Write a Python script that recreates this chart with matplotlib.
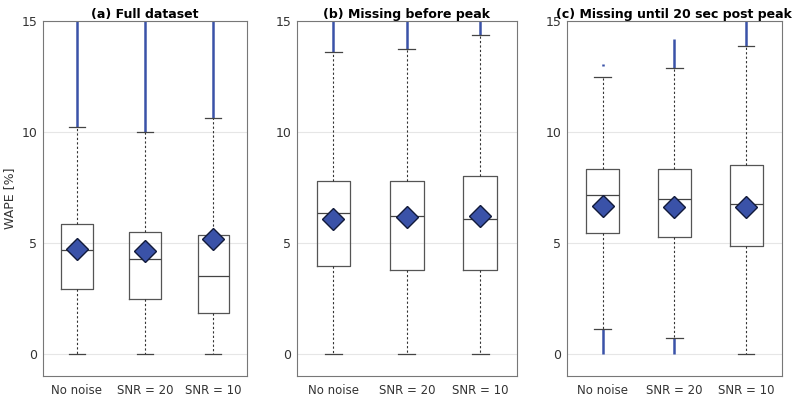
import numpy as np
import matplotlib.pyplot as plt

groups = ["No noise", "SNR = 20", "SNR = 10"]
titles = ["(a) Full dataset", "(b) Missing before peak", "(c) Missing until 20 sec post peak"]

# per panel: one value per group
q1 = [[2.90, 2.47, 1.83], [3.94, 3.79, 3.76], [5.44, 5.26, 4.84]]
med = [[4.69, 4.28, 3.51], [6.34, 6.22, 6.08], [7.16, 6.97, 6.74]]
q3 = [[5.85, 5.47, 5.35], [7.78, 7.78, 8.00], [8.32, 8.32, 8.51]]
mean = [[4.72, 4.61, 5.18], [6.07, 6.14, 6.19], [6.64, 6.61, 6.61]]
whislo = [[0.0, 0.0, 0.0], [0.0, 0.0, 0.0], [1.10, 0.70, 0.0]]
whishi = [[10.22, 9.97, 10.63], [13.58, 13.73, 14.34], [12.45, 12.87, 13.88]]
# range of outliers above / below the whiskers (dense, drawn as a span)
flier_hi_lo = [[10.22, 9.97, 10.63], [13.58, 13.73, 14.34], [12.95, 12.87, 13.88]]
flier_hi_hi = [[15.5, 15.5, 15.5], [15.5, 15.5, 15.5], [13.05, 14.2, 15.5]]
flier_lo_lo = [[0.0, 0.0, 0.0], [0.0, 0.0, 0.0], [0.0, 0.0, 0.0]]
flier_lo_hi = [[0.0, 0.0, 0.0], [0.0, 0.0, 0.0], [1.10, 0.70, 0.0]]

positions_ax = [
    [0.0534, 0.06, 0.2558, 0.888],
    [0.3709, 0.06, 0.2754, 0.888],
    [0.7084, 0.06, 0.2690, 0.888],
]

blue = "#3a52a8"
edge = "#555555"

fig = plt.figure(figsize=(8, 4), dpi=100)
for p in range(3):
    ax = fig.add_axes(positions_ax[p])
    stats = []
    for i in range(3):
        stats.append(dict(med=med[p][i], q1=q1[p][i], q3=q3[p][i],
                          whislo=whislo[p][i], whishi=whishi[p][i],
                          mean=mean[p][i], fliers=[]))
    x = np.arange(1, 4)
    ax.bxp(stats, positions=x, widths=0.46, showmeans=True, showfliers=False,
           boxprops=dict(color=edge, linewidth=0.9),
           medianprops=dict(color="#444444", linewidth=0.9),
           whiskerprops=dict(color="#333333", linewidth=0.8, linestyle=(0, (2, 2))),
           capprops=dict(color="#444444", linewidth=0.9),
           meanprops=dict(marker="D", markerfacecolor=blue, markeredgecolor="#111a3a",
                          markersize=11, markeredgewidth=1.0),
           zorder=3)
    ax.vlines(x, flier_hi_lo[p], flier_hi_hi[p], color=blue, linewidth=1.8, zorder=2)
    ax.vlines(x, flier_lo_lo[p], flier_lo_hi[p], color=blue, linewidth=1.8, zorder=2)

    ax.set_xlim(0.5, 3.5)
    ax.set_ylim(-1, 15)
    ax.set_yticks([0, 5, 10, 15])
    ax.set_xticks(x)
    ax.set_xticklabels(groups)
    ax.yaxis.grid(True, color="#e6e6e6", linewidth=0.8, zorder=0)
    ax.set_axisbelow(True)
    ax.tick_params(axis="x", length=0, labelsize=8.5, labelcolor="#333333", pad=6)
    ax.tick_params(axis="y", length=0, labelsize=9, labelcolor="#333333", pad=4)
    for s in ax.spines.values():
        s.set_color("#777777")
        s.set_linewidth(0.8)
    ax.set_title(titles[p], fontsize=9, fontweight="bold", pad=1)
    if p == 0:
        ax.set_ylabel("WAPE [%]", fontsize=9, color="#333333", labelpad=4)

fig.savefig("out.png", dpi=100)
